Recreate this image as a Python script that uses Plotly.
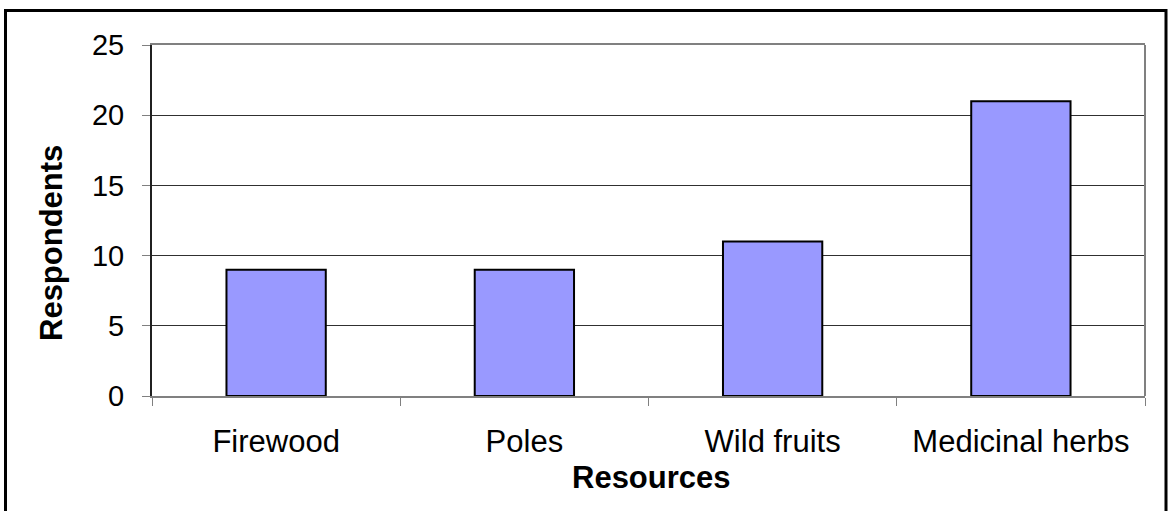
import plotly.graph_objects as go

# Resource use survey
resources = ["Firewood", "Poles", "Wild fruits", "Medicinal herbs"]
respondents = [9, 9, 11, 21]
y_ticks = [0, 5, 10, 15, 20, 25]

W, H = 1172, 511
L, R, T, B = 152, 27, 45, 115
pw, ph = W - L - R, H - T - B


def px_x(x):
    return (x - L) / pw


def px_y(y):
    return (H - B - y) / ph


FONT = "Liberation Sans, Arial, sans-serif"

fig = go.Figure(
    go.Bar(
        x=resources,
        y=respondents,
        width=0.4,
        marker=dict(color="#9999FF", line=dict(color="#000000", width=2)),
        hoverinfo="x+y",
    )
)

fig.update_layout(
    width=W,
    height=H,
    margin=dict(l=L, r=R, t=T, b=B, pad=0),
    paper_bgcolor="white",
    plot_bgcolor="white",
    showlegend=False,
    font=dict(family=FONT, color="#000000"),
    bargap=0.6,
)

fig.update_xaxes(
    type="category",
    tickson="boundaries",
    ticks="outside",
    ticklen=8,
    tickcolor="#808080",
    tickwidth=1,
    showgrid=False,
    showline=True,
    linecolor="#808080",
    linewidth=2,
    mirror=True,
    tickfont=dict(size=31, family=FONT, color="#000000"),
    ticklabelstandoff=17,
)

fig.update_yaxes(
    range=[0, 25],
    tickvals=y_ticks,
    ticks="outside",
    ticklen=8,
    tickcolor="#808080",
    tickwidth=1,
    showgrid=True,
    gridcolor="#303030",
    gridwidth=1,
    showline=True,
    linecolor="#202020",
    linewidth=2,
    zeroline=False,
    tickfont=dict(size=29, family=FONT, color="#000000"),
    ticklabelstandoff=12,
)

# Right edge of the plot frame
fig.add_shape(type="line", xref="paper", yref="paper", x0=1, x1=1, y0=0, y1=1,
              line=dict(color="#808080", width=2))

# Outer chart border
fig.add_shape(type="rect", xref="paper", yref="paper",
              x0=px_x(5.5), x1=px_x(1166), y0=px_y(540), y1=px_y(10.5),
              line=dict(color="#000000", width=3), fillcolor="rgba(0,0,0,0)",
              layer="above")

fig.add_annotation(text="<b>Resources</b>", xref="paper", yref="paper",
                   x=px_x(651), y=px_y(478), xanchor="center", yanchor="middle",
                   showarrow=False, font=dict(size=31, family=FONT, color="#000000"))
fig.add_annotation(text="<b>Respondents</b>", xref="paper", yref="paper",
                   x=px_x(51), y=px_y(243), xanchor="center", yanchor="middle",
                   textangle=-90, showarrow=False,
                   font=dict(size=31, family=FONT, color="#000000"))

fig.write_html("out.html")
